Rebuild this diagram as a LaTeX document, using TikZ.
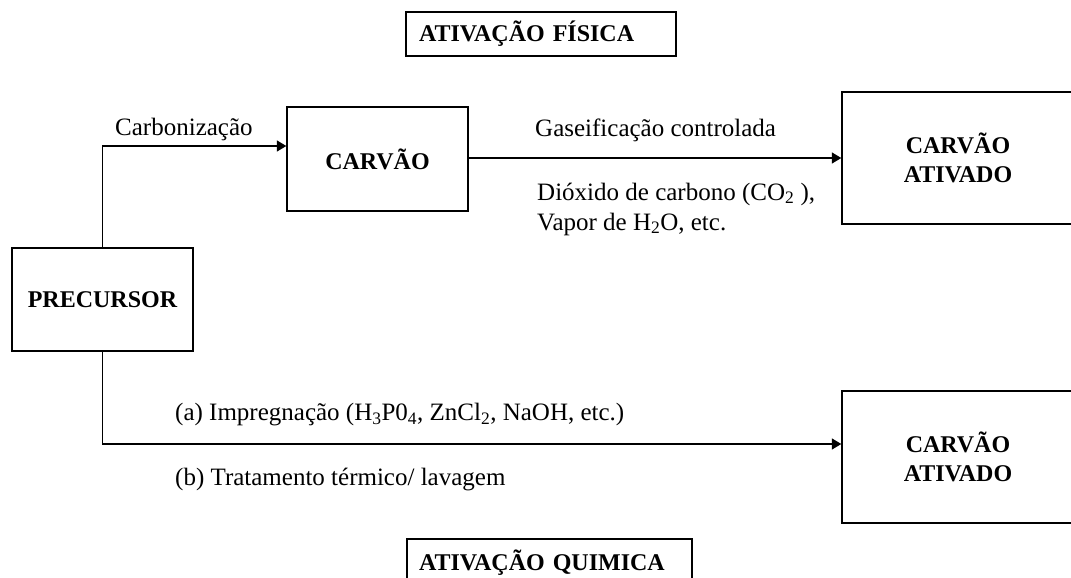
\documentclass[tikz,border=0pt]{standalone}
\usepackage{fontspec}
\setmainfont{Liberation Serif}
\usetikzlibrary{arrows.meta}

\begin{document}
\begin{tikzpicture}[x=1pt, y=-1pt,
		caixa/.style={draw, line width=1.3pt, font=\fontsize{24}{29}\selectfont\bfseries, align=center, inner sep=0pt},
		rotulo/.style={font=\fontsize{25}{30}\selectfont, inner sep=0pt, anchor=west, align=left},
		seta/.style={line width=1.3pt, -{Triangle[angle=60:11pt]}}]
			\useasboundingbox (0,0) rectangle (1071,578);
			\node[caixa, minimum width=270pt, minimum height=44pt, text width=244pt, align=left] (fisica) at (541,34) {ATIVAÇÃO FÍSICA};
			\node[caixa, minimum width=181pt, minimum height=104pt] (carvao) at (377.5,159) {CARVÃO};
			\node[caixa, minimum width=181pt, minimum height=103pt] (precursor) at (102.5,299.5) {PRECURSOR};
			\node[caixa, minimum width=232pt, minimum height=132pt] (ativado1) at (958,158) {CARVÃO\\ATIVADO};
			\node[caixa, minimum width=232pt, minimum height=132pt] (ativado2) at (958,457) {CARVÃO\\ATIVADO};
			\node[caixa, minimum width=285pt, minimum height=48pt, text width=261pt, align=left] (quimica) at (549.5,563) {ATIVAÇÃO QUIMICA};
			\node[rotulo] (carbonizacao) at (115,129) {Carbonização};
			\node[rotulo] (gaseificacao) at (535,130) {Gaseificação controlada};
			\node[rotulo] (gases) at (537,209) {Dióxido de carbono (CO\textsubscript{2} ),\\Vapor de H\textsubscript{2}O, etc.};
			\node[rotulo] (impregnacao) at (175,415) {(a) Impregnação (H\textsubscript{3}P0\textsubscript{4}, ZnCl\textsubscript{2}, NaOH, etc.)};
			\node[rotulo] (tratamento) at (175,480) {(b) Tratamento térmico/ lavagem};
			\draw[seta] (precursor.north) |- ([yshift=13pt]carvao.west);
			\draw[seta] (carvao.east |- ativado1.west) -- (ativado1.west);
			\draw[seta] (precursor.south) |- ([yshift=13pt]ativado2.west);
		\end{tikzpicture}
\end{document}
